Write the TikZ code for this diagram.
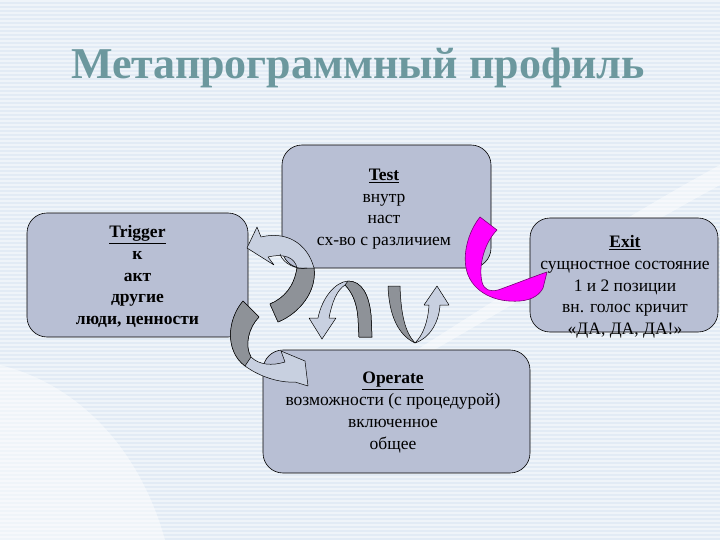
\documentclass[tikz,border=0pt]{standalone}
\usepackage{fontspec}
\setmainfont{Liberation Serif}
\definecolor{bg}{RGB}{226,235,245}
\definecolor{boxfill}{RGB}{184,191,212}
\definecolor{titlecol}{RGB}{108,152,158}
\definecolor{arrlightc}{RGB}{200,208,224}
\definecolor{arrdarkc}{RGB}{142,146,152}
\definecolor{magentac}{RGB}{255,0,255}
\definecolor{magentaline}{RGB}{120,0,120}
\tikzset{
  blockbox/.style={draw=black, line width=0.6pt, fill=boxfill, rounded corners=20pt, inner sep=0pt},
  txt/.style={align=center, font=\fontsize{17.5}{21.7}\selectfont, inner sep=0pt},
  arrlight/.style={draw=black, line width=0.5pt, fill=arrlightc, line join=round},
  arrdark/.style={draw=black, line width=0.5pt, fill=arrdarkc, line join=round},
  arrmag/.style={draw=magentaline, line width=0.6pt, fill=magentac, line join=round},
  stripe/.style={white, opacity=0.45, line width=1.2pt}
}
\begin{document}
\begin{tikzpicture}[x=1pt,y=-1pt]
\useasboundingbox (0,0) rectangle (720,540);
\fill[bg] (0,0) rectangle (720,540);
\foreach \yy in {1,5,...,537} \draw[stripe] (0,\yy) -- (720,\yy);
% light swooshes
\fill[white, opacity=0.45] (290,430) .. controls (450,330) and (600,230) .. (720,165) -- (720,185) .. controls (600,250) and (450,345) .. (290,430) -- cycle;
\fill[white, opacity=0.45] (0,365) .. controls (80,385) and (140,450) .. (165,540) -- (0,540) -- cycle;
% title
\node[font=\fontsize{44}{50}\selectfont\bfseries, text=titlecol, inner sep=0pt] (title) at (358,68) {Метапрограммный профиль};
% boxes
\node[blockbox, minimum width=221pt, minimum height=124pt] (trigger) at (137.5,275) {};
\node[blockbox, minimum width=209pt, minimum height=123pt] (test) at (386.5,206.5) {};
\node[blockbox, minimum width=188pt, minimum height=114pt] (exit) at (624,275) {};
\node[blockbox, minimum width=267pt, minimum height=123pt] (operate) at (396.5,411.5) {};
% texts
\node[txt] (triggertext) at (137.5,276.5) {\textbf{\underline{Trigger}}\\ \textbf{к}\\ \textbf{акт}\\ \textbf{другие}\\ \textbf{люди, ценности}};
\node[txt] (testtext) at (384,209) {\textbf{\underline{Test}}\\ внутр\\ наст\\ сх-во с различием};
\node[txt] (exittext) at (625,287) {\textbf{\underline{Exit}}\\ сущностное состояние\\ 1 и 2 позиции\\ вн. голос кричит\\ «ДА, ДА, ДА!»};
\node[txt] (operatetext) at (393,412.5) {\textbf{\underline{Operate}}\\ возможности (с процедурой)\\ включенное\\ общее};
% arrow Test -> Trigger
\draw[arrlight] (261,237) .. controls (285,231) and (307,242) .. (314,268) .. controls (317,291) and (300,313) .. (278,322) -- (270,304) .. controls (284,298) and (294,287) .. (297,268) .. controls (295,258) and (285,253) .. (268,257) -- (274,265) -- (247,248) -- (257,227) -- cycle;
\draw[arrdark] (314,268) .. controls (317,291) and (300,313) .. (278,322) -- (270,304) .. controls (284,298) and (294,287) .. (297,268) -- cycle;
\draw[line width=0.5pt] (280,254) .. controls (283,264) and (297,270) .. (307,268);
% arrow Trigger -> Operate
\draw[arrlight] (243,301) .. controls (227,320) and (225,351) .. (245,366) .. controls (260,377) and (280,383) .. (295,382) -- (308,386) -- (305,361) -- (281,351) -- (285,362) .. controls (272,366) and (259,365) .. (251,357) .. controls (244,345) and (249,327) .. (259,317) -- cycle;
\draw[arrdark] (243,301) .. controls (227,320) and (225,351) .. (245,366) -- (251,357) .. controls (244,345) and (249,327) .. (259,317) -- cycle;
% arch arrow (down)
\draw[arrlight] (372,337) -- (371,315) .. controls (369,295) and (362,281) .. (348,281) .. controls (335,282) and (322,298) .. (318,318) -- (309,318) -- (322,339) -- (336,318) -- (329,318) .. controls (332,302) and (337,290) .. (345,285) .. controls (352,292) and (357,303) .. (358,318) -- (359,337) -- cycle;
\draw[arrdark] (372,337) -- (371,315) .. controls (369,295) and (362,281) .. (348,281) -- (345,285) .. controls (352,292) and (357,303) .. (358,318) -- (359,337) -- cycle;
% U arrow (up)
\draw[arrlight] (415,343) .. controls (430,338) and (439,322) .. (440,305) -- (449,305) -- (437,286) -- (424,305) -- (429,305) .. controls (428,322) and (423,335) .. (415,343) -- cycle;
\draw[arrdark] (388,286) .. controls (389,315) and (398,335) .. (415,343) .. controls (405,332) and (401,315) .. (400,286) -- cycle;
% magenta arrow Test -> Exit
\draw[arrmag] (480,217) .. controls (468,232) and (462,255) .. (467,272) .. controls (473,292) and (495,303) .. (520,301) .. controls (533,300) and (540,294) .. (543,288) -- (547,272) .. controls (535,276) and (515,284) .. (498,290) .. controls (490,292) and (484,290) .. (482,282) .. controls (478,265) and (485,242) .. (497,230) -- cycle;
\end{tikzpicture}
\end{document}
